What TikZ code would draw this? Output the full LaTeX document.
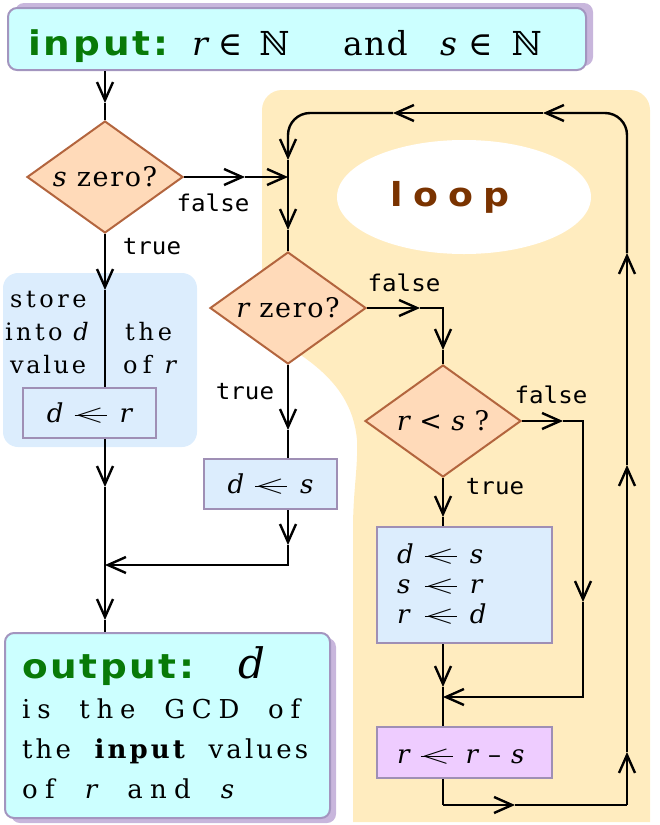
\documentclass[tikz,border=0pt]{standalone}
\usepackage{fontspec}
\usepackage{graphicx}
\setmainfont{DejaVu Serif}
\newfontfamily\srf{DejaVu Serif}
\newfontfamily\sansA[LetterSpace=8]{DejaVu Sans}
\newfontfamily\sansO[LetterSpace=7]{DejaVu Sans}
\newfontfamily\sansL[LetterSpace=29]{DejaVu Sans}
\newfontfamily\monoA{DejaVu Sans Mono}
\usetikzlibrary{arrows.meta,shapes.geometric}
\newcommand\XS[1]{\scalebox{1.1}[1]{#1}}
\newcommand\ls[1]{\addfontfeature{LetterSpace=#1}}
\newcommand\lar{\makebox[0pt][l]{\scalebox{1.55}[1.1]{$<$}}\rule[6.1pt]{32pt}{1.4pt}}
\newcommand\fDia{\srf\fontsize{27}{30}\selectfont}
\newcommand\fBox{\srf\fontsize{26}{30}\selectfont}
\newcommand\fSt{\srf\fontsize{24}{30}\selectfont}
\newcommand\fMono{\monoA\fontsize{23}{27}\selectfont}
\newcommand\fOut{\srf\fontsize{26}{30}\selectfont}
\newcommand\fIn{\srf\fontsize{33}{40}\selectfont}
\newcommand\fHead{\sansA\bfseries\fontsize{34}{40}\selectfont}
\newcommand\fHeadO{\sansO\bfseries\fontsize{34}{40}\selectfont}
\newcommand\fLoop{\sansL\bfseries\fontsize{33}{40}\selectfont}
\definecolor{cCyan}{HTML}{CCFFFF}
\definecolor{cCyanB}{HTML}{A395BF}
\definecolor{cShad}{HTML}{C8B6DC}
\definecolor{cDia}{HTML}{FFDAB9}
\definecolor{cDiaB}{HTML}{B3653E}
\definecolor{cYel}{HTML}{FFECBF}
\definecolor{cBlue}{HTML}{DCEDFD}
\definecolor{cBoxB}{HTML}{9F8FB5}
\definecolor{cLav}{HTML}{EECCFF}
\definecolor{cGrn}{HTML}{087A08}
\definecolor{cBrn}{HTML}{7A3300}
\begin{document}
\begin{tikzpicture}[x=1pt,y=-1pt,
  ln/.style={line width=2.4pt},
  arr/.style={ln,-{Straight Barb[length=18pt,width=16pt]}},
  dia/.style={diamond,draw=cDiaB,fill=cDia,line width=2pt,minimum width=156pt,minimum height=112pt,inner sep=0pt,font=\fDia},
  abox/.style={rectangle,draw=cBoxB,line width=2pt,inner sep=0pt,fill=cBlue,font=\fBox},
  lbl/.style={font=\fMono,inner sep=0pt},
  txt/.style={anchor=base west,inner sep=0pt},
  ]
\useasboundingbox (0,0) rectangle (660,825);
% backgrounds
\fill[cYel] (353,822) -- (353,530) .. controls (353,490) and (358,470) .. (357,440)
  .. controls (350,360) and (262,345) .. (262,320)
  [rounded corners=20pt] -- (262,90) -- (650,90) [sharp corners] -- (650,822) -- cycle;
\fill[cBlue, rounded corners=15pt] (3,273) rectangle (197,447);
\fill[white] (464,197) ellipse [x radius=127, y radius=57];
\node[font=\fLoop,text=cBrn,inner sep=0pt] (loop) at (450,197) {\XS{loop}};
% shadows
\fill[cShad, rounded corners=9pt] (15,3) rectangle (593,66);
\fill[cShad, rounded corners=9pt] (11,638) rectangle (336,823);
% main nodes
\node[rectangle,rounded corners=9pt,draw=cCyanB,fill=cCyan,line width=2pt,minimum width=578pt,minimum height=62pt,inner sep=0pt] (input) at (297,39) {};
\node[txt,font=\fHead,text=cGrn] (inlbl) at (28,55) {\XS{input:}};
\node[txt,font=\fIn] (inr) at (192,55) {{\itshape r}\hspace{10pt}∈\hspace{17pt}ℕ};
\node[txt,font=\fIn] (inand) at (343,55) {\ls{4}and};
\node[txt,font=\fIn] (ins) at (440,55) {{\itshape s}\hspace{11pt}∈\hspace{19pt}ℕ};

\node[dia] (szero) at (105,177) {\makebox[0pt]{\ls{6}{\itshape s} zero?}};
\node[dia] (rzero) at (288,308) {\makebox[0pt]{\ls{6}{\itshape r} zero?}};
\node[dia] (rls) at (443,421) {\makebox[0pt]{\ls{3}{\itshape r} < {\itshape s} ?}};

\node[abox,minimum width=133pt,minimum height=50pt] (dr) at (89.5,413) {{\itshape d}\hspace{11pt}\lar\hspace{13pt}{\itshape r}};
\node[abox,minimum width=133pt,minimum height=50pt] (ds) at (270.5,484) {{\itshape d}\hspace{11pt}\lar\hspace{13pt}{\itshape s}};
\node[abox,minimum width=175pt,minimum height=116pt] (b1) at (464.5,585) {};
\node[txt,font=\fBox] (b1t) at (397,563) {\begin{tabular}[t]{@{}l@{\hspace{11pt}}l@{\hspace{13pt}}l@{}}
  \itshape d & \lar & \itshape s\\ \itshape s & \lar & \itshape r\\ \itshape r & \lar & \itshape d\end{tabular}};
\node[abox,fill=cLav,minimum width=175pt,minimum height=51pt] (b2) at (464.5,752.5) {};
\node[txt,font=\fBox] (b2t) at (397,763) {{\itshape r}\hspace{11pt}\lar\hspace{13pt}{\itshape r}\hspace{10pt}–\hspace{10pt}{\itshape s}};

% store text
\node[txt,font=\fSt] (st1) at (10,307) {\ls{15}store};
\node[txt,font=\fSt] (st2) at (5,340) {\ls{14}into {\itshape d}};
\node[txt,font=\fSt] (st3) at (10,373) {\ls{11}value};
\node[txt,font=\fSt] (st4) at (125,340) {\ls{16}the};
\node[txt,font=\fSt] (st5) at (123,373) {\ls{22}of {\itshape r}};

% output
\node[rectangle,rounded corners=9pt,draw=cCyanB,fill=cCyan,line width=2pt,minimum width=325pt,minimum height=185pt,inner sep=0pt] (output) at (167.5,725.5) {};
\node[txt,font=\fHeadO,text=cGrn] (out1) at (22,678) {\XS{output:}};
\node[txt,font=\fOut] (outd) at (238,678) {\fontsize{42}{44}\selectfont\itshape d};
\node[txt,font=\fOut] (out2) at (22,718) {\makebox[278pt][s]{\ls{26}is the GCD of}};
\node[txt,font=\fOut] (out3) at (22,758) {\makebox[286pt][s]{\ls{12}the \textbf{input} values}};
\node[txt,font=\fOut] (out4) at (22,798) {\makebox[212pt][s]{\ls{28}of {\itshape r} and {\itshape s}}};

% labels
\node[lbl] (f1) at (213,203) {\scalebox{1.05}[1]{false}};
\node[lbl] (t1) at (152,247) {\scalebox{1.05}[1]{true}};
\node[lbl] (f2) at (404,283) {\scalebox{1.05}[1]{false}};
\node[lbl] (t2) at (245,392) {\scalebox{1.05}[1]{true}};
\node[lbl] (f3) at (551,395) {\scalebox{1.05}[1]{false}};
\node[lbl] (t3) at (495,487) {\scalebox{1.05}[1]{true}};

% coordinates
\coordinate (a1) at (105,103);
\coordinate (a2) at (245,177);
\coordinate (j1) at (288,177);
\coordinate (l0) at (443,805);
\coordinate (a3) at (515,805);
\coordinate (l1) at (627,805);
\coordinate (a4) at (627,752);
\coordinate (a5) at (627,465);
\coordinate (a6) at (627,253);
\coordinate (l2) at (627,113);
\coordinate (a7) at (543,113);
\coordinate (a8) at (393,113);
\coordinate (l3) at (288,113);
\coordinate (a9) at (288,160);
\coordinate (a10) at (288,230);
\coordinate (a11) at (420,308);
\coordinate (c2) at (443,308);
\coordinate (a12) at (443,350);
\coordinate (a13) at (563,421);
\coordinate (c3) at (583,421);
\coordinate (a14) at (583,602);
\coordinate (c4) at (583,697);
\coordinate (j2) at (443,697);
\coordinate (a15) at (443,517);
\coordinate (a16) at (443,687);
\coordinate (a17) at (288,430);
\coordinate (a18) at (288,545);
\coordinate (c5) at (288,565);
\coordinate (j3) at (105,565);
\coordinate (a19) at (105,290);
\coordinate (a20) at (105,487);
\coordinate (a21) at (105,620);

% connectors
\draw[arr] (input.south -| szero.north) -- (a1);
\draw[ln] (a1) -- (szero.north);
\draw[arr] (szero.east) -- (a2);
\draw[arr] (a2) -- (j1);
\draw[ln] (b2.south -| rls.south) -- (l0);
\draw[arr] (l0) -- (a3);
\draw[ln] (a3) -- (l1);
\draw[arr] (l1) -- (a4);
\draw[arr] (a4) -- (a5);
\draw[arr] (a5) -- (a6);
\draw[arr,rounded corners=22pt] (a6) -- (l2) -- (a7);
\draw[arr] (a7) -- (a8);
\draw[arr,rounded corners=22pt] (a8) -- (l3) -- (a9);
\draw[arr] (a9) -- (a10);
\draw[ln] (a10) -- (rzero.north);
\draw[arr] (rzero.east) -- (a11);
\draw[arr] (a11) -- (c2) -- (a12);
\draw[ln] (a12) -- (rls.north);
\draw[arr] (rls.east) -- (a13);
\draw[arr] (a13) -- (c3) -- (a14);
\draw[arr] (a14) -- (c4) -- (j2);
\draw[arr] (rls.south) -- (a15);
\draw[ln] (a15) -- (b1.north -| rls.south);
\draw[arr] (b1.south -| rls.south) -- (a16);
\draw[ln] (a16) -- (b2.north -| rls.south);
\draw[arr] (rzero.south) -- (a17);
\draw[ln] (a17) -- (ds.north -| rzero.south);
\draw[arr] (ds.south -| rzero.south) -- (a18);
\draw[arr] (a18) -- (c5) -- (j3);
\draw[arr] (szero.south) -- (a19);
\draw[ln] (a19) -- (dr.north -| szero.south);
\draw[arr] (dr.south -| szero.south) -- (a20);
\draw[arr] (a20) -- (a21);
\draw[ln] (a21) -- (output.north -| szero.south);
\end{tikzpicture}
\end{document}
